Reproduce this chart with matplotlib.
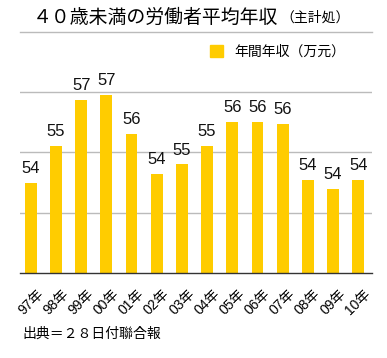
import numpy as np
import matplotlib.pyplot as plt
from matplotlib.patches import Patch
from matplotlib.lines import Line2D

plt.rcParams['font.family'] = ['Liberation Sans', 'Noto Sans CJK JP']

years = ["97年", "98年", "99年", "00年", "01年", "02年", "03年",
         "04年", "05年", "06年", "07年", "08年", "09年", "10年"]
income = [54.0, 55.2, 56.75, 56.9, 55.6, 54.3, 54.6,
          55.2, 56.0, 56.0, 55.95, 54.1, 53.8, 54.1]
labels = ["54", "55", "57", "57", "56", "54", "55",
          "55", "56", "56", "56", "54", "54", "54"]

bar_color = "#FFCC00"

fig = plt.figure(figsize=(3.87, 3.58), dpi=100)
ax = fig.add_axes([20/387, 1 - 273/358, 352/387, (273 - 74)/358])

x = np.arange(len(years))
ax.bar(x, income, width=0.47, color=bar_color, bottom=0, zorder=2)
ax.set_ylim(51, 57.6)
ax.set_xlim(-0.43, 13.55)

for xi, v, lab in zip(x, income, labels):
    ax.annotate(lab, (xi, v), xytext=(0, 5), textcoords="offset points",
                ha="center", va="bottom", fontsize=12, color="#111111")

ax.set_yticks([53, 55, 57])
ax.yaxis.grid(True, color="#bbbbbb", linewidth=1, zorder=0)
ax.set_yticklabels([])
ax.tick_params(axis="y", length=0)
ax.tick_params(axis="x", length=0, pad=10)
ax.set_xticks(x)
ax.set_xticklabels(years, rotation=45, ha="center", fontsize=10)

for s in ["top", "right", "left"]:
    ax.spines[s].set_visible(False)
ax.spines["bottom"].set_color("#333333")
ax.spines["bottom"].set_linewidth(1)

# title
fig.text(33/387, 1 - 17/358, "４０歳未満の労働者平均年収", fontsize=13.6,
         family="Noto Sans CJK JP", va="center", ha="left")
fig.text(280/387, 1 - 18/358, "（主計処）", fontsize=10,
         family="Noto Sans CJK JP", va="center", ha="left")
fig.add_artist(Line2D([20/387, 372/387], [1 - 32/358, 1 - 32/358],
                      color="#bbbbbb", linewidth=1))

# legend
fig.legend(handles=[Patch(color=bar_color, label="年間年収（万元）")],
           loc="center right", bbox_to_anchor=(358/387, 1 - 52/358),
           frameon=False, handlelength=1.0, handleheight=1.0,
           handletextpad=0.8, prop={"family": "Noto Sans CJK JP", "size": 10})

fig.text(22/387, 1 - 334/358, "出典＝２８日付聯合報", fontsize=10,
         family="Noto Sans CJK JP", va="center", ha="left")

plt.savefig("out.png", dpi=100)
